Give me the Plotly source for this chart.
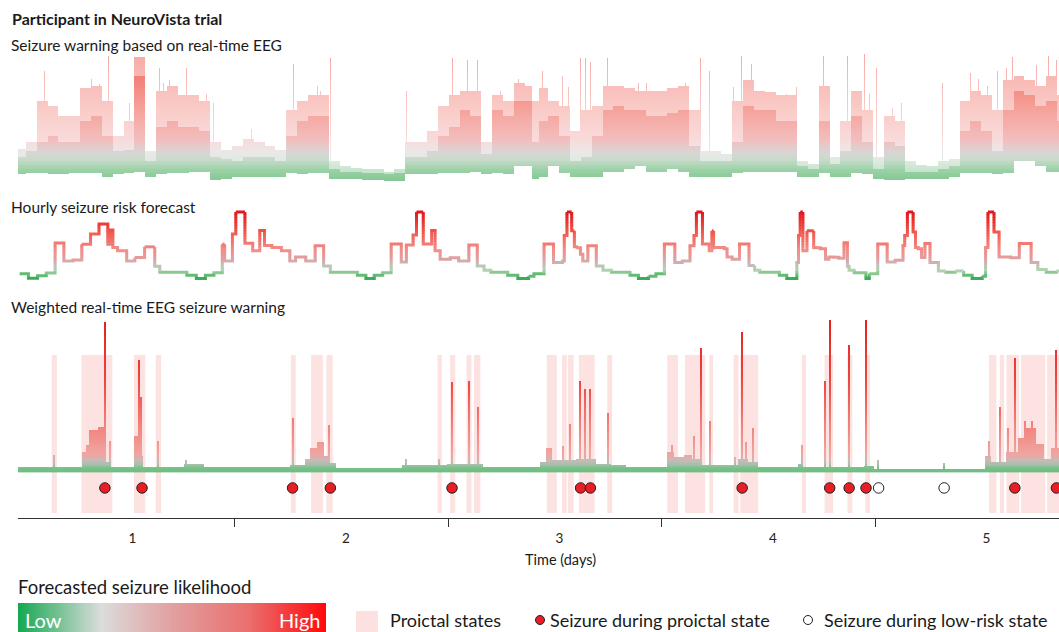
import numpy as np
import plotly.graph_objects as go

# ------------------------------------------------------------------ data
day_ticks = [1, 2, 3, 4, 5]
half_day_marks = [1.48, 2.48, 3.48, 4.48]
x_start, x_end = 0.464, 5.340

# Panel 1: seizure warning from real-time EEG (0-100): sample times (days) with
# lower edge, dense-core top and upper edge of the trace
eeg_t = [0.476, 0.527, 0.578, 0.628, 0.679, 0.730, 0.781, 0.831, 0.882, 0.933,
         0.983, 1.034, 1.085, 1.136, 1.186, 1.237, 1.288, 1.338, 1.389, 1.440,
         1.491, 1.541, 1.592, 1.643, 1.693, 1.744, 1.795, 1.845, 1.896, 1.947,
         1.998, 2.048, 2.099, 2.150, 2.200, 2.251, 2.302, 2.353, 2.403, 2.454,
         2.505, 2.555, 2.606, 2.657, 2.707, 2.758, 2.809, 2.860, 2.875, 2.926,
         2.976, 3.027, 3.078, 3.128, 3.179, 3.229, 3.280, 3.330, 3.381, 3.432,
         3.482, 3.533, 3.583, 3.634, 3.685, 3.735, 3.786, 3.836, 3.887, 3.938,
         3.988, 4.039, 4.090, 4.140, 4.191, 4.241, 4.292, 4.343, 4.393, 4.444,
         4.495, 4.545, 4.596, 4.646, 4.697, 4.748, 4.798, 4.849, 4.900, 4.950,
         5.001, 5.051, 5.102, 5.153, 5.203, 5.254, 5.305, 5.355]
eeg_low = [9, 10, 10, 9, 9, 10, 10, 10, 7, 9, 10, 11, 7, 9, 10, 10, 11, 11, 5, 6,
           7, 7, 7, 7, 7, 10, 9, 10, 10, 6, 6, 6, 5, 5, 4, 4, 9, 9, 9, 10,
           10, 10, 11, 9, 10, 9, 15, 15, 6, 7, 15, 10, 7, 7, 7, 11, 11, 13, 15, 11,
           11, 13, 11, 7, 7, 7, 7, 10, 11, 11, 11, 11, 11, 7, 7, 10, 7, 7, 10, 9,
           6, 5, 5, 6, 6, 6, 6, 7, 10, 10, 10, 9, 10, 19, 19, 15, 11, 11]
eeg_core = [22, 26, 33, 37, 33, 33, 48, 52, 37, 26, 27, 81, 19, 44, 48, 44, 44, 41, 22, 20,
            19, 22, 22, 22, 19, 37, 48, 52, 52, 13, 11, 11, 10, 10, 9, 10, 22, 22, 26, 37,
            44, 56, 52, 24, 56, 52, 63, 63, 33, 48, 52, 37, 19, 22, 37, 56, 59, 56, 56, 52,
            52, 54, 56, 30, 19, 19, 19, 33, 59, 56, 56, 48, 48, 15, 13, 48, 17, 26, 52, 33,
            13, 33, 30, 11, 11, 11, 13, 15, 41, 48, 41, 26, 56, 70, 67, 59, 63, 48]
eeg_high = [28, 33, 63, 59, 52, 52, 72, 74, 63, 37, 48, 95, 26, 70, 74, 67, 67, 63, 33, 27,
            30, 35, 33, 30, 27, 56, 63, 67, 67, 19, 15, 14, 13, 13, 11, 13, 33, 33, 41, 59,
            67, 70, 70, 33, 67, 63, 76, 74, 63, 72, 63, 59, 41, 56, 59, 74, 74, 72, 70, 70,
            70, 72, 74, 56, 26, 26, 24, 63, 78, 70, 69, 67, 67, 19, 17, 74, 22, 48, 70, 56,
            22, 52, 48, 19, 16, 15, 19, 20, 63, 70, 67, 56, 78, 81, 78, 74, 81, 67]
eeg_spike_t = [0.589, 0.637, 0.807, 0.845, 0.888, 0.987, 1.125, 1.144, 1.172, 1.253,
               1.348, 1.377, 1.557, 1.751, 1.866, 1.880, 1.927, 2.284, 2.440, 2.497,
               2.535, 2.568, 2.615, 2.720, 2.805, 2.922, 3.017, 3.045, 3.102, 3.125,
               3.149, 3.229, 3.372, 3.410, 3.590, 3.661, 3.703, 3.816, 3.855, 3.902,
               4.063, 4.111, 4.239, 4.348, 4.429, 4.451, 4.484, 4.560, 4.603, 4.793,
               4.926, 4.963, 5.006, 5.053, 5.092, 5.124, 5.233, 5.290, 5.318, 5.328]
eeg_spike_v = [85, 59, 79, 75, 96, 61, 87, 76, 78, 87,
               68, 61, 42, 90, 74, 70, 94, 70, 48, 94,
               65, 93, 93, 70, 79, 85, 81, 73, 94, 94,
               91, 94, 76, 76, 76, 94, 85, 73, 96, 90,
               68, 73, 96, 96, 97, 68, 87, 58, 61, 76,
               83, 79, 74, 85, 87, 95, 89, 96, 80, 93]

# Panel 2: hourly seizure-risk forecast (step start times in days, relative risk 0-1)
forecast_t = [0.4717, 0.5128, 0.5555, 0.5966, 0.6378, 0.6789, 0.7216, 0.7628, 0.8039, 0.8434,
              0.8846, 0.8972, 0.9083, 0.9304, 0.9732, 1.0111, 1.0570, 1.1045, 1.1282, 1.2548,
              1.2991, 1.3418, 1.3818, 1.4208, 1.4319, 1.4683, 1.4842, 1.5269, 1.5633, 1.5965,
              1.6186, 1.6534, 1.6977, 1.7373, 1.7642, 1.8116, 1.8559, 1.8955, 1.9271, 2.0537,
              2.0932, 2.1328, 2.1723, 2.2119, 2.2593, 2.2831, 2.3147, 2.3305, 2.3622, 2.4017,
              2.4175, 2.4413, 2.4888, 2.5283, 2.5758, 2.6153, 2.6470, 2.6786, 2.7577, 2.8051,
              2.8558, 2.8806, 2.9280, 2.9722, 3.0148, 3.0227, 3.0353, 3.0574, 3.0700, 3.0858,
              3.0984, 3.1095, 3.1332, 3.1727, 3.2042, 3.2437, 3.3305, 3.3700, 3.4174, 3.4521,
              3.4916, 3.5405, 3.5753, 3.6116, 3.6305, 3.6416, 3.6700, 3.7016, 3.7142, 3.7221,
              3.7726, 3.7852, 3.8089, 3.8436, 3.8879, 3.9147, 3.9384, 4.0300, 4.0647, 4.1121,
              4.1199, 4.1278, 4.1404, 4.1594, 4.1910, 4.1989, 4.2226, 4.2462, 4.2620, 4.2857,
              4.3094, 4.3331, 4.3489, 4.3568, 4.3805, 4.4357, 4.4515, 4.4910, 4.5352, 4.5730,
              4.6094, 4.6173, 4.6299, 4.6567, 4.6678, 4.6804, 4.6962, 4.7120, 4.7357, 4.7751,
              4.8099, 4.8541, 4.8935, 4.9330, 4.9803, 4.9961, 5.0072, 5.0356, 5.0593, 5.1146,
              5.1540, 5.2093, 5.2409, 5.2803, 5.3277]
forecast_v = [0.077, 0.01, 0.05, 0.09, 0.536, 0.27, 0.285, 0.52, 0.67, 0.82,
              0.52, 0.733, 0.47, 0.42, 0.27, 0.32, 0.48, 0.19, 0.102, 0.057,
              0.006, 0.057, 0.092, 0.52, 0.269, 0.672, 1.0, 0.532, 0.42, 0.723,
              0.50, 0.47, 0.42, 0.269, 0.329, 0.269, 0.496, 0.193, 0.102, 0.057,
              0.006, 0.057, 0.092, 0.522, 0.254, 0.506, 0.657, 1.0, 0.522, 0.723,
              0.42, 0.294, 0.319, 0.269, 0.506, 0.193, 0.132, 0.102, 0.057, 0.006,
              0.04, 0.077, 0.522, 0.245, 0.269, 0.65, 1.0, 0.72, 0.48, 0.465,
              0.37, 0.269, 0.496, 0.193, 0.132, 0.102, 0.057, 0.006, 0.04, 0.077,
              0.522, 0.245, 0.269, 0.496, 0.65, 1.0, 0.522, 0.42, 0.72, 0.47,
              0.45, 0.33, 0.294, 0.522, 0.2, 0.132, 0.102, 0.057, 0.006, 0.245,
              0.65, 1.0, 0.42, 0.72, 0.47, 0.465, 0.45, 0.294, 0.33, 0.325,
              0.31, 0.54, 0.19, 0.132, 0.092, 0.006, 0.08, 0.522, 0.254, 0.28,
              0.5, 0.65, 1.0, 0.70, 0.47, 0.45, 0.32, 0.53, 0.245, 0.12,
              0.102, 0.12, 0.057, 0.006, 0.04, 0.47, 1.0, 0.70, 0.33, 0.319,
              0.53, 0.245, 0.14, 0.102, 0.12]
forecast_end = 5.340

# Panel 3: weighted real-time EEG warning (0-1)
weighted_edges = [0.456, 0.762, 0.782, 0.798, 0.837, 0.868, 0.899, 1.006, 1.024, 1.036,
                  1.049, 1.239, 1.334, 1.737, 1.809, 1.832, 1.865, 1.894, 1.913, 1.951,
                  2.259, 2.473, 2.639, 2.912, 2.941, 2.969, 3.078, 3.173, 3.244, 3.314,
                  3.504, 3.537, 3.584, 3.622, 3.669, 3.836, 3.883, 3.930, 4.120, 4.144,
                  4.428, 4.475, 4.996, 5.024, 5.091, 5.148, 5.186, 5.233, 5.271, 5.304, 5.340]
weighted_level = [0.02, 0.12, 0.17, 0.27, 0.29, 0.06, 0.025, 0.23, 0.5, 0.1,
                  0.025, 0.045, 0.02, 0.035, 0.08, 0.15, 0.19, 0.1, 0.05, 0.015,
                  0.035, 0.045, 0.025, 0.06, 0.15, 0.07, 0.08, 0.045, 0.035, 0.02,
                  0.12, 0.09, 0.11, 0.08, 0.035, 0.08, 0.06, 0.02, 0.045, 0.02,
                  0.03, 0.012, 0.1, 0.06, 0.12, 0.22, 0.28, 0.18, 0.08, 0.15]
weighted_spike_t = [0.630, 0.871, 0.894, 1.028, 1.035, 1.116, 1.247, 1.748, 1.919, 2.275,
                    2.434, 2.493, 2.571, 2.612, 3.015, 3.051, 3.098, 3.120, 3.145, 3.228,
                    3.528, 3.630, 3.664, 3.703, 3.820, 3.856, 3.875, 3.904, 4.137, 4.243,
                    4.264, 4.357, 4.436, 4.491, 4.798, 5.012, 5.062, 5.097, 5.133, 5.178,
                    5.209, 5.323]
weighted_spike_v = [0.107, 0.995, 0.195, 0.74, 0.49, 0.195, 0.07, 0.35, 0.30, 0.08,
                    0.08, 0.59, 0.60, 0.42, 0.16, 0.31, 0.60, 0.545, 0.55, 0.385,
                    0.17, 0.235, 0.82, 0.33, 0.09, 0.925, 0.19, 0.285, 0.17, 0.60,
                    1.0, 0.84, 1.0, 0.07, 0.05, 0.195, 0.425, 0.285, 0.75, 0.33,
                    0.33, 0.81]

proictal_start = [0.622, 0.761, 1.007, 1.109, 1.742, 1.837, 1.909, 2.429, 2.488, 2.565,
                  2.600, 2.941, 3.012, 3.039, 3.091, 3.224, 3.505, 3.588, 3.702, 3.816,
                  3.847, 4.135, 4.242, 4.349, 4.433, 5.012, 5.063, 5.094, 5.162, 5.284]
proictal_end = [0.646, 0.906, 1.060, 1.134, 1.765, 1.892, 1.938, 2.449, 2.512, 2.588,
                2.630, 2.988, 3.034, 3.067, 3.165, 3.247, 3.555, 3.683, 3.720, 3.839,
                3.931, 4.155, 4.282, 4.372, 4.455, 5.047, 5.083, 5.154, 5.276, 5.340]
seizure_proictal_t = [0.871, 1.045, 1.750, 1.927, 2.497, 3.099, 3.145, 3.856, 4.266,
                      4.357, 4.436, 5.133, 5.328]
seizure_lowrisk_t = [4.495, 4.802]

# ------------------------------------------------------------------ colour helpers
def rgb(c):
    return 'rgb(%d,%d,%d)' % tuple(int(round(v)) for v in c)

def lerp(cs, p):
    p = min(max(p, 0.0), 1.0)
    for (p0, c0), (p1, c1) in zip(cs[:-1], cs[1:]):
        if p <= p1:
            f = (p - p0) / (p1 - p0) if p1 > p0 else 0.0
            return rgb([a + (b - a) * f for a, b in zip(c0, c1)])
    return rgb(cs[-1][1])

def to_scale(cs):
    return [[p, rgb(c)] for p, c in cs]

cs_eeg = [(0, (70, 170, 95)), (0.12, (115, 192, 130)), (0.2, (180, 205, 185)),
          (0.26, (205, 195, 195)), (0.34, (238, 165, 165)), (0.55, (242, 130, 120)),
          (0.8, (238, 80, 70)), (1.0, (230, 35, 35))]
cs_fc = [(0, (40, 165, 75)), (0.08, (120, 195, 130)), (0.14, (175, 210, 175)),
         (0.22, (195, 190, 190)), (0.3, (225, 160, 160)), (0.45, (242, 140, 135)),
         (0.65, (242, 100, 90)), (0.85, (235, 55, 50)), (1.0, (225, 25, 30))]
w_lo, w_hi = -0.02, 1.02
def wp(v):
    return (v - w_lo) / (w_hi - w_lo)
cs_w = [(wp(-0.02), (110, 188, 128)), (wp(0.015), (120, 192, 135)), (wp(0.04), (165, 192, 170)),
        (wp(0.07), (200, 185, 185)), (wp(0.11), (240, 165, 160)), (wp(0.3), (242, 130, 125)),
        (wp(0.6), (238, 70, 65)), (wp(1.02), (230, 30, 30))]
cs_legend = [(0, (20, 168, 80)), (0.27, (220, 220, 220)), (0.5, (225, 160, 160)),
             (0.75, (235, 110, 110)), (1, (255, 10, 10))]

# ------------------------------------------------------------------ figure layout
W, H = 1059, 632
def py(y):
    return 1 - y / H
def px(x):
    return x / W

x_dom = [px(18), 1.0]
fig = go.Figure()

dx = 1 / 213.7
x_cols = np.arange(x_start + dx / 2, x_end, dx)

def nearest_index(times, xs):
    times = np.asarray(times, float)
    mids = (times[:-1] + times[1:]) / 2
    return np.searchsorted(mids, xs)

# ---- Panel 1 heatmaps
idx = nearest_index(eeg_t, x_cols)
lo = np.array(eeg_low, float)[idx]
co = np.array(eeg_core, float)[idx]
hi = np.array(eeg_high, float)[idx].copy()
for t, v in zip(eeg_spike_t, eeg_spike_v):
    k = int(np.argmin(np.abs(x_cols - t)))
    hi[k] = max(hi[k], v)
y_rows = np.arange(0.5, 101, 1.0)
Y, _ = np.meshgrid(y_rows, x_cols, indexing='ij')
core_z = np.where((Y >= lo[None, :]) & (Y <= co[None, :]), Y, np.nan).astype(np.float32)
outer_z = np.where((Y > co[None, :]) & (Y <= hi[None, :]), Y, np.nan).astype(np.float32)
for z, op in [(outer_z, 0.4), (core_z, 0.72)]:
    fig.add_trace(go.Heatmap(x=x_cols, y=y_rows, z=z, zmin=0, zmax=100, colorscale=to_scale(cs_eeg),
                             showscale=False, hoverinfo='skip', opacity=op, zsmooth=False,
                             xaxis='x3', yaxis='y'))

# ---- Panel 2 coloured step line
edges = list(forecast_t) + [forecast_end]
pts = []
for i, v in enumerate(forecast_v):
    pts.append((edges[i], v))
    pts.append((edges[i + 1], v))
band_w = 0.04
eps = 0.006
def band(v):
    return int(np.floor(v / band_w + 1e-9))
segs = []
for a, b in zip(pts[:-1], pts[1:]):
    if a[1] == b[1]:
        segs.append((a, b, band(a[1])))
    else:
        l, h = sorted([a[1], b[1]])
        cuts = [l] + [k * band_w for k in range(int(np.floor(l / band_w)) + 1,
                                                 int(np.ceil(h / band_w)))] + [h]
        sgn = 1
        if a[1] > b[1]:
            cuts = cuts[::-1]
            sgn = -1
        n = len(cuts) - 1
        for j, (c0, c1) in enumerate(zip(cuts[:-1], cuts[1:])):
            e0 = c0 if j == 0 else c0 - sgn * eps
            e1 = c1 if j == n - 1 else c1 + sgn * eps
            segs.append(((a[0], e0), (a[0], e1), band((c0 + c1) / 2)))
lines = {}
cur = None
for p0, p1, bd in segs:
    d = lines.setdefault(bd, ([], []))
    if bd != cur:
        if d[0]:
            d[0].append(None); d[1].append(None)
        d[0].append(p0[0]); d[1].append(p0[1])
        cur = bd
    d[0].append(p1[0]); d[1].append(p1[1])
for bd in sorted(lines):
    xs, ys = lines[bd]
    fig.add_trace(go.Scatter(x=xs, y=ys, mode='lines', hoverinfo='skip', showlegend=False,
                             line=dict(color=lerp(cs_fc, (bd + 0.5) * band_w), width=3),
                             xaxis='x2', yaxis='y2'))

# ---- Panel 3
seg_idx = np.clip(np.searchsorted(weighted_edges, x_cols, side='right') - 1, 0, len(weighted_level) - 1)
lvl = np.array(weighted_level, float)[seg_idx].copy()
for t, v in zip(weighted_spike_t, weighted_spike_v):
    k = int(np.argmin(np.abs(x_cols - t)))
    for kk in (k, k + 1):
        if kk < len(lvl):
            lvl[kk] = max(lvl[kk], v)
y3_rows = np.arange(-0.008, 1.02, 0.007)
Y3, _ = np.meshgrid(y3_rows, x_cols, indexing='ij')
w_z = np.where(Y3 <= lvl[None, :], Y3, np.nan).astype(np.float32)
fig.add_trace(go.Heatmap(x=x_cols, y=y3_rows, z=w_z, zmin=w_lo, zmax=w_hi, colorscale=to_scale(cs_w),
                         showscale=False, hoverinfo='skip', zsmooth=False, xaxis='x', yaxis='y3'))

fig.add_trace(go.Scatter(x=seizure_proictal_t, y=[-0.113] * len(seizure_proictal_t), mode='markers',
                         marker=dict(size=10.5, color='rgb(232,30,36)', line=dict(color='#222', width=1)),
                         hoverinfo='skip', showlegend=False, cliponaxis=False, xaxis='x', yaxis='y3'))
fig.add_trace(go.Scatter(x=seizure_lowrisk_t, y=[-0.113] * len(seizure_lowrisk_t), mode='markers',
                         marker=dict(size=10.5, color='white', line=dict(color='#222', width=1)),
                         hoverinfo='skip', showlegend=False, cliponaxis=False, xaxis='x', yaxis='y3'))

shapes = []
for s, e in zip(proictal_start, proictal_end):
    shapes.append(dict(type='rect', xref='x', yref='y3', x0=s, x1=e, y0=-0.28, y1=0.773,
                       fillcolor='rgb(253,226,226)', line=dict(width=0), layer='below'))

# ---- Legend colour bar
grad = np.linspace(0, 1, 300)
fig.add_trace(go.Heatmap(z=[grad], x=grad, y=[0], colorscale=to_scale(cs_legend), showscale=False,
                         hoverinfo='skip', xaxis='x4', yaxis='y4'))

shapes.append(dict(type='rect', xref='paper', yref='paper', x0=px(356), x1=px(378), y0=0, y1=py(611),
                   fillcolor='rgb(253,224,224)', line=dict(width=0)))
shapes.append(dict(type='circle', xref='paper', yref='paper', x0=px(535.5), x1=px(544.5),
                   y0=py(624.5), y1=py(615.5), fillcolor='rgb(232,30,36)', line=dict(color='#222', width=1)))
shapes.append(dict(type='circle', xref='paper', yref='paper', x0=px(803.5), x1=px(812.5),
                   y0=py(624.5), y1=py(615.5), fillcolor='white', line=dict(color='#222', width=1)))

FONT = 'Lato'
ann = []
def text(x, y, s, size, color='#1a1a1a', anchor='left'):
    ann.append(dict(x=px(x), y=py(y), xref='paper', yref='paper', text=s, showarrow=False,
                    xanchor=anchor, yanchor='middle', font=dict(family=FONT, size=size, color=color)))

text(10, 18, '<b>Participant in NeuroVista trial</b>', 16)
text(9, 45, 'Seizure warning based on real-time EEG', 15.5)
text(9, 207, 'Hourly seizure risk forecast', 15.5)
text(9, 307, 'Weighted real-time EEG seizure warning', 15.5)
text(560, 559, 'Time (days)', 14.5, anchor='center')
text(16, 587, 'Forecasted seizure likelihood', 18.5)
text(23, 620, 'Low', 20, color='white')
text(322, 620, 'High', 20, color='white', anchor='right')
text(388, 620, 'Proictal states', 18)
text(548, 620, 'Seizure during proictal state', 18)
text(822, 620, 'Seizure during low-risk state', 18)

hidden = dict(visible=False, showgrid=False, zeroline=False)
fig.update_layout(
    width=W, height=H, margin=dict(l=0, r=0, t=0, b=0),
    paper_bgcolor='white', plot_bgcolor='rgba(0,0,0,0)', showlegend=False,
    xaxis=dict(domain=x_dom, range=[x_start, x_end], anchor='y3', showgrid=False, zeroline=False,
               showline=True, linecolor='#333', linewidth=1.3,
               tickmode='array', tickvals=day_ticks, ticktext=[str(d) for d in day_ticks],
               ticks='outside', ticklen=8, tickcolor='rgba(0,0,0,0)',
               tickfont=dict(family=FONT, size=13.5, color='#222'),
               minor=dict(tickvals=half_day_marks, ticks='outside', ticklen=8,
                          tickcolor='#333', tickwidth=1.2, showgrid=False)),
    xaxis2=dict(domain=x_dom, matches='x', anchor='y2', **hidden),
    xaxis3=dict(domain=x_dom, matches='x', anchor='y', **hidden),
    yaxis=dict(domain=[py(190), py(48)], range=[-2.15, 101.56], **hidden),
    yaxis2=dict(domain=[py(285), py(205)], range=[-0.0896, 1.1045], **hidden),
    yaxis3=dict(domain=[py(518), py(318)], range=[-0.3133, 1.02], **hidden),
    xaxis4=dict(domain=[px(18), px(326)], range=[0, 1], anchor='y4', **hidden),
    yaxis4=dict(domain=[0, py(603)], range=[-0.5, 0.5], **hidden),
    shapes=shapes, annotations=ann,
)

fig.write_html('out.html')
